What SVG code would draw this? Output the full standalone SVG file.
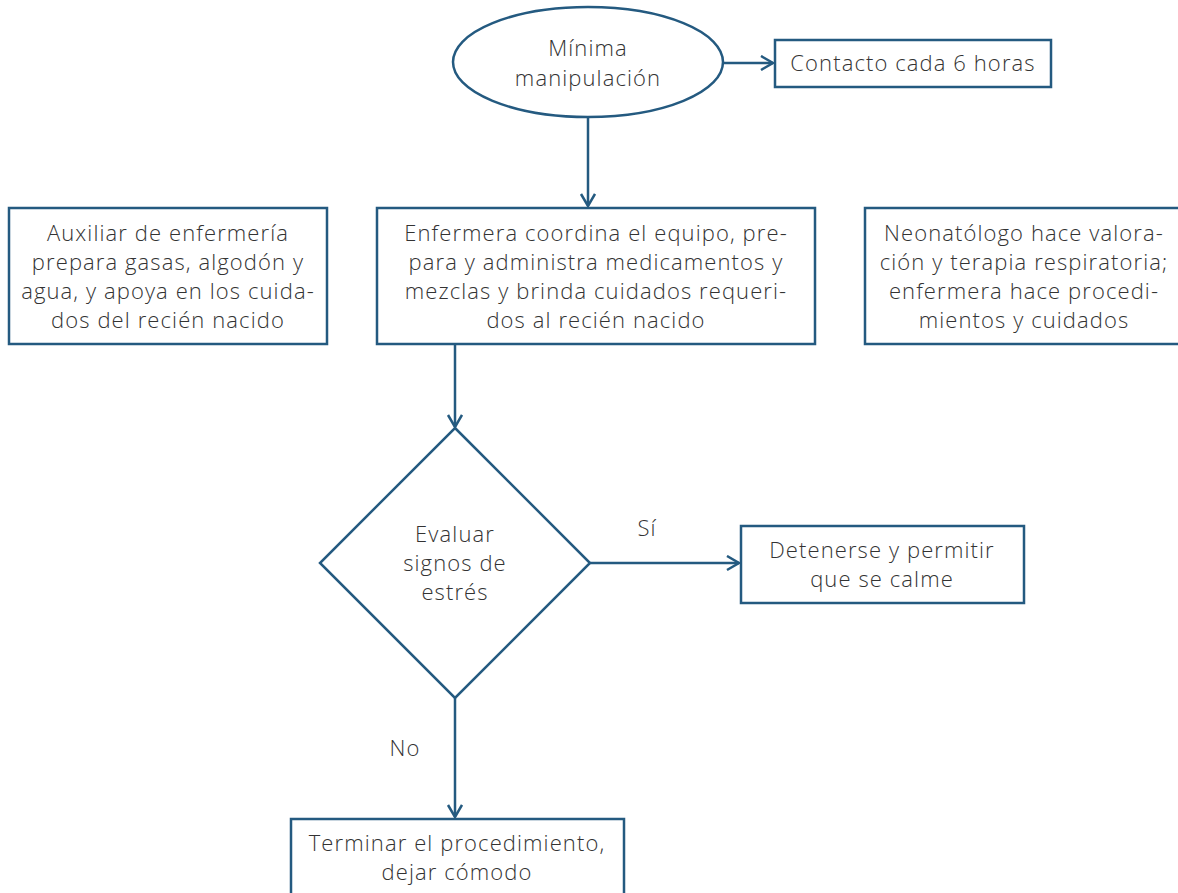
<svg xmlns="http://www.w3.org/2000/svg" width="1178" height="893" viewBox="0 0 1178 893">
<defs>
<marker id="arr" markerWidth="20" markerHeight="20" refX="14" refY="8" orient="auto" markerUnits="userSpaceOnUse">
<path d="M2,1 L14,8 L2,15" fill="none" stroke="#245a80" stroke-width="2.5"/>
</marker>
<style>
.s{fill:#fff;stroke:#245a80;stroke-width:2.5}
.t{font-family:"Open Sans","Liberation Sans",sans-serif;font-weight:300;font-size:22px;letter-spacing:1.1px;fill:#333;text-anchor:middle}
.c{fill:none;stroke:#245a80;stroke-width:2.5}
</style>
</defs>
<rect width="1178" height="893" fill="#fff"/>
<g id="connectors">
<line class="c" x1="723" y1="63" x2="773" y2="63" marker-end="url(#arr)"/>
<line class="c" x1="588" y1="117" x2="588" y2="206" marker-end="url(#arr)"/>
<line class="c" x1="455" y1="344" x2="455" y2="427" marker-end="url(#arr)"/>
<line class="c" x1="590" y1="563" x2="739" y2="563" marker-end="url(#arr)"/>
<line class="c" x1="455" y1="698" x2="455" y2="817" marker-end="url(#arr)"/>
<text class="t" x="647" y="536">Sí</text>
<text class="t" x="405" y="756">No</text>
</g>
<g id="n1">
<ellipse class="s" cx="588" cy="62" rx="135" ry="55"/>
<text class="t" x="588" y="56">Mínima</text>
<text class="t" x="588" y="86">manipulación</text>
</g>
<g id="n2">
<rect class="s" x="775" y="40" width="276" height="47"/>
<text class="t" x="913" y="71">Contacto cada 6 horas</text>
</g>
<g id="n3">
<rect class="s" x="9" y="208" width="318" height="136"/>
<text class="t" x="168" y="241">Auxiliar de enfermería</text>
<text class="t" x="168" y="270">prepara gasas, algodón y</text>
<text class="t" x="168" y="299">agua, y apoya en los cuida-</text>
<text class="t" x="168" y="328">dos del recién nacido</text>
</g>
<g id="n4">
<rect class="s" x="377" y="208" width="438" height="136"/>
<text class="t" x="596" y="241">Enfermera coordina el equipo, pre-</text>
<text class="t" x="596" y="270">para y administra medicamentos y</text>
<text class="t" x="596" y="299">mezclas y brinda cuidados requeri-</text>
<text class="t" x="596" y="328">dos al recién nacido</text>
</g>
<g id="n5">
<rect class="s" x="865" y="208" width="320" height="136"/>
<text class="t" x="1024" y="241">Neonatólogo hace valora-</text>
<text class="t" x="1024" y="270">ción y terapia respiratoria;</text>
<text class="t" x="1024" y="299">enfermera hace procedi-</text>
<text class="t" x="1024" y="328">mientos y cuidados</text>
</g>
<g id="n6">
<polygon class="s" points="455,428 590,563 455,698 320,563"/>
<text class="t" x="455" y="542">Evaluar</text>
<text class="t" x="455" y="571">signos de</text>
<text class="t" x="455" y="600">estrés</text>
</g>
<g id="n7">
<rect class="s" x="741" y="526" width="283" height="77"/>
<text class="t" x="882" y="558">Detenerse y permitir</text>
<text class="t" x="882" y="587">que se calme</text>
</g>
<g id="n8">
<rect class="s" x="291" y="819" width="333" height="90"/>
<text class="t" x="457" y="851">Terminar el procedimiento,</text>
<text class="t" x="457" y="880">dejar cómodo</text>
</g>
</svg>
